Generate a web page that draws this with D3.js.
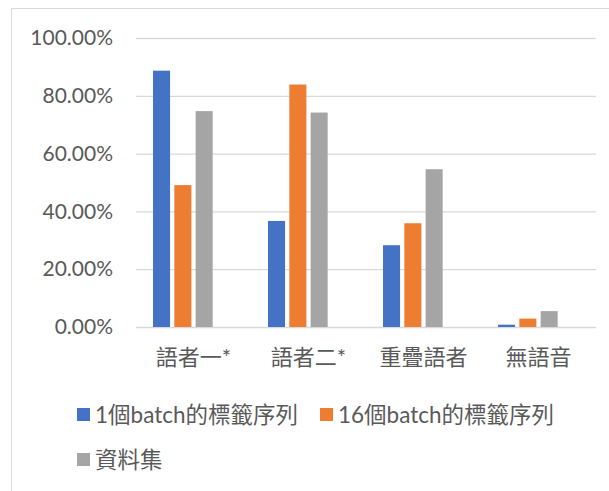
<!DOCTYPE html>
<html>
<head>
<meta charset="utf-8">
<script src="https://cdn.jsdelivr.net/npm/d3@7"></script>
<style>
  body { margin: 0; background: #fff; }
  svg text { font-family: Lato, "Noto Sans CJK TC", sans-serif; fill: #595959; }
</style>
</head>
<body>
<div id="chart"></div>
<script>
// categories and series
var categories = ['語者一*', '語者二*', '重疊語者', '無語音'];
var seriesNames = ['1個batch的標籤序列', '16個batch的標籤序列', '資料集'];
var batch1 = [0.887, 0.367, 0.283, 0.008];
var batch16 = [0.491, 0.839, 0.359, 0.029];
var dataset = [0.747, 0.742, 0.546, 0.055];
var yTicks = [0, 0.2, 0.4, 0.6, 0.8, 1.0];
var colors = ['#4472C4', '#ED7D31', '#A5A5A5'];

var W = 609, H = 491;
var margin = {top: 38, right: 13, bottom: 164, left: 136};

var svg = d3.select('#chart').append('svg')
	.attr('width', W).attr('height', H);

// chart area border
svg.append('rect')
	.attr('x', 11.5).attr('y', 8.5)
	.attr('width', 700).attr('height', 600)
	.attr('fill', '#fff').attr('stroke', '#d9d9d9');

var values = [batch1, batch16, dataset];

var x0 = d3.scaleBand()
	.domain(categories)
	.range([margin.left, W - margin.right])
	.paddingInner(0.296)
	.paddingOuter(0.148);

// 4 slots per group, the last one is empty (like the excel chart)
var x1 = d3.scaleBand()
	.domain(seriesNames.concat(['_empty']))
	.range([0, x0.bandwidth()])
	.paddingInner(0.2);

var y = d3.scaleLinear()
	.domain([0, 1])
	.range([H - margin.bottom, margin.top]);

// y axis with gridlines
var yAxis = g => g
	.attr('transform', `translate(${margin.left}, 0)`)
	.call(d3.axisLeft(y).tickValues(yTicks).tickFormat(d3.format('.2%')).tickSize(0).tickPadding(23))
	.call(g => g.select('.domain').remove())
	.call(g => g.selectAll('.tick line').remove())
	.call(g => g.selectAll('.tick').append('line')
		.attr('x2', W - margin.right - margin.left)
		.attr('stroke', '#d9d9d9')
		.attr('stroke-width', 1.3))
	.call(g => g.selectAll('text').attr('font-size', 21).attr('fill', '#595959'));

svg.append('g').call(yAxis);

// x axis labels
var xAxis = g => g
	.attr('transform', `translate(0, ${H - margin.bottom})`)
	.call(d3.axisBottom(x0).tickSize(0).tickPadding(22))
	.call(g => g.select('.domain').remove())
	.call(g => g.selectAll('text').attr('font-size', 22).attr('fill', '#595959'));

svg.append('g').call(xAxis);

// bars
var rows = [];
categories.forEach((c, i) => {
	seriesNames.forEach((s, j) => {
		rows.push({cat: c, series: s, value: values[j][i], color: colors[j]});
	});
});

svg.append('g')
	.selectAll('rect').data(rows).enter().append('rect')
	.attr('x', d => x0(d.cat) + x1(d.series))
	.attr('y', d => y(d.value))
	.attr('width', x1.bandwidth())
	.attr('height', d => y(0) - y(d.value))
	.attr('fill', d => d.color);

// legend (flow layout, wraps like excel)
var legend = svg.append('g');
var lx = 77, ly = 415, maxX = 590;
seriesNames.forEach((s, j) => {
	var item = legend.append('g');
	item.append('rect')
		.attr('width', 13).attr('height', 13)
		.attr('y', -7)
		.attr('fill', colors[j]);
	var t = item.append('text')
		.attr('x', 18)
		.attr('dy', '0.35em')
		.attr('font-size', 22.5)
		.text(s);
	var w = 18 + t.node().getComputedTextLength();
	if (lx + w > maxX) {
		lx = 77;
		ly += 45;
	}
	item.attr('transform', `translate(${lx}, ${ly})`);
	lx += w + 22;
});
</script>
</body>
</html>
